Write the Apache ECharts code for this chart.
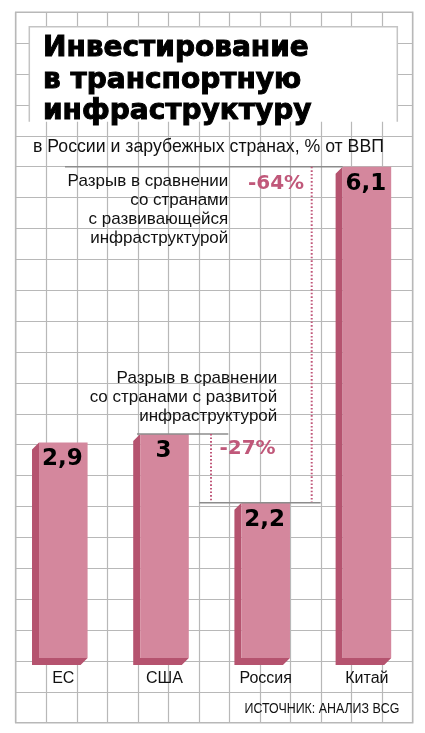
<!DOCTYPE html>
<html>
<head>
<meta charset="utf-8">
<script src="https://cdn.jsdelivr.net/npm/echarts@6/dist/echarts.min.js"></script>
<style>
    html, body {margin: 0; padding: 0; background: #fff;}
    #chart {width: 425px; height: 733px;}
</style>
</head>
<body>
<div id="chart"></div>
<script>
const countries = ['ЕС', 'США', 'Россия', 'Китай'];
const values = [2.9, 3, 2.2, 6.1];
const valueLabels = ['2,9', '3', '2,2', '6,1'];
const titleLines = ['Инвестирование', 'в транспортную', 'инфраструктуру'];
const subtitle = 'в России и зарубежных странах, % от ВВП';
const gapDeveloping = '-64%';
const gapDeveloped = '-27%';
const noteDeveloping = ['Разрыв в сравнении', 'со странами', 'с развивающейся', 'инфраструктурой'];
const noteDeveloped = ['Разрыв в сравнении', 'со странами с развитой', 'инфраструктурой'];
const source = 'ИСТОЧНИК: АНАЛИЗ BCG';

const Y_MIN = 0.4, Y_MAX = 6.5;
const FACE = '#d4879d', SIDE = '#b5536f', GAP = '#c0587a', GRID = '#b8b8b8', RULE = '#8c8c8c';
const SANS = '"Liberation Sans", sans-serif';

const dom = document.getElementById('chart');
const chart = echarts.init(dom, null, {renderer: 'canvas'});

// bar with a dark side and bottom, shifted down-left like in the print
function renderBar(params, api) {
    const top = api.coord([api.value(0), api.value(1)]);
    const base = api.coord([api.value(0), Y_MIN]);
    const w = api.size([1, 0])[0] * 0.48;
    const d = 7;
    const x0 = top[0] - w / 2, x1 = top[0] + w / 2, y0 = top[1], yb = base[1];
    return {
        type: 'group',
        children: [
            {
                type: 'polygon',
                shape: {points: [[x0, y0], [x0 - d, y0 + d], [x0 - d, yb + d], [x1 - d, yb + d], [x1, yb], [x0, yb]]},
                style: {fill: SIDE}
            },
            {
                type: 'rect',
                shape: {x: x0, y: y0, width: w, height: yb - y0},
                style: {fill: FACE}
            },
            {
                type: 'text',
                style: {
                    text: valueLabels[params.dataIndex],
                    x: top[0] - 1, y: y0 + 17,
                    align: 'center', verticalAlign: 'middle',
                    font: 'bold 23px "DejaVu Sans", sans-serif',
                    fill: '#000'
                }
            }
        ]
    };
}

let option = {
    animation: false,
    grid: [
        {left: 12.7, right: 7.5, top: 132.2, bottom: 75},
        {left: 15.7, right: 12.3, top: 12.3, bottom: 10.3, show: true, borderColor: GRID, borderWidth: 1.5}
    ],
    xAxis: [
        {
            type: 'category', gridIndex: 0, data: countries,
            axisLine: {show: false}, axisTick: {show: false},
            axisLabel: {fontFamily: SANS, fontSize: 16, color: '#111', margin: 13}
        },
        {
            type: 'value', gridIndex: 1, min: 0, max: 13, interval: 1,
            axisLine: {show: false}, axisTick: {show: false}, axisLabel: {show: false},
            splitLine: {lineStyle: {color: GRID, width: 1.2}}
        }
    ],
    yAxis: [
        {type: 'value', gridIndex: 0, min: Y_MIN, max: Y_MAX, show: false, splitLine: {show: false}},
        {
            type: 'value', gridIndex: 1, min: 0, max: 23, interval: 1,
            axisLine: {show: false}, axisTick: {show: false}, axisLabel: {show: false},
            splitLine: {lineStyle: {color: GRID, width: 1.2}}
        }
    ],
    series: [
        {
            type: 'custom',
            xAxisIndex: 0, yAxisIndex: 0,
            renderItem: renderBar,
            data: values.map((v, i) => [i, v]),
            z: 3
        }
    ]
};
chart.setOption(option);

// reference lines follow the bar tops
const px = (i, v) => chart.convertToPixel({gridIndex: 0}, [i, v]);
const yChina = px(3, values[3])[1];
const yUsa = px(1, values[1])[1];
const yRus = px(2, values[2])[1];
const chinaLeft = px(3, values[3])[0] - chart.getModel().getComponent('xAxis', 0).axis.getBandWidth() * 0.24;

const hLine = (x1, x2, y, color) => ({
    type: 'line', z: 5,
    shape: {x1: x1, y1: y, x2: x2, y2: y},
    style: {stroke: color, lineWidth: 1.5}
});
const vLine = (x, y1, y2) => ({
    type: 'line', z: 5,
    shape: {x1: x, y1: y1, x2: x, y2: y2},
    style: {stroke: GAP, lineWidth: 2, lineDash: [1.6, 2]}
});

chart.setOption({
    graphic: [
        {type: 'rect', z: 10, shape: {x: 29.3, y: 26.7, width: 368, height: 95}, style: {fill: '#fff'}},
        {
            type: 'polyline', z: 11,
            shape: {points: [[29.3, 121.7], [29.3, 26.7], [397.3, 26.7], [397.3, 121.7]]},
            style: {stroke: '#c4c4c4', lineWidth: 1.5, fill: null}
        },
        {
            type: 'text', z: 12,
            style: {
                text: titleLines.join('\n'), x: 43, y: 33, lineHeight: 31.5,
                font: 'bold 28px "DejaVu Sans", sans-serif', fill: '#000',
                stroke: '#000', lineWidth: 1, verticalAlign: 'top'
            }
        },
        {
            type: 'text', z: 12,
            style: {
                text: subtitle, x: 33, y: 147, verticalAlign: 'middle',
                font: '17.7px ' + SANS, fill: '#111'
            }
        },
        hLine(65, chinaLeft, yChina, RULE),
        vLine(311.7, yChina, yRus),
        hLine(137, 228.3, yUsa, RULE),
        vLine(211, yUsa, yRus),
        hLine(199.3, 320.7, yRus, RULE),
        {
            type: 'text', z: 12,
            style: {
                text: gapDeveloping, x: 276, y: yChina + 17.5, align: 'center', verticalAlign: 'middle',
                font: 'bold 20px "DejaVu Sans", sans-serif', fill: GAP
            }
        },
        {
            type: 'text', z: 12,
            style: {
                text: gapDeveloped, x: 247.5, y: yUsa + 14.5, align: 'center', verticalAlign: 'middle',
                font: 'bold 20px "DejaVu Sans", sans-serif', fill: GAP
            }
        },
        {
            type: 'text', z: 12,
            style: {
                text: noteDeveloping.join('\n'), x: 228.3, y: 171.5, lineHeight: 19,
                align: 'right', verticalAlign: 'top',
                font: '17px ' + SANS, fill: '#111'
            }
        },
        {
            type: 'text', z: 12,
            style: {
                text: noteDeveloped.join('\n'), x: 277.3, y: 368.5, lineHeight: 19,
                align: 'right', verticalAlign: 'top',
                font: '17px ' + SANS, fill: '#111'
            }
        },
        {
            type: 'text', z: 12, x: 399.3, y: 708.5, scaleX: 0.855,
            style: {
                text: source, x: 0, y: 0, align: 'right', verticalAlign: 'middle',
                font: '14.5px ' + SANS, fill: '#111'
            }
        }
    ]
});
</script>
</body>
</html>
